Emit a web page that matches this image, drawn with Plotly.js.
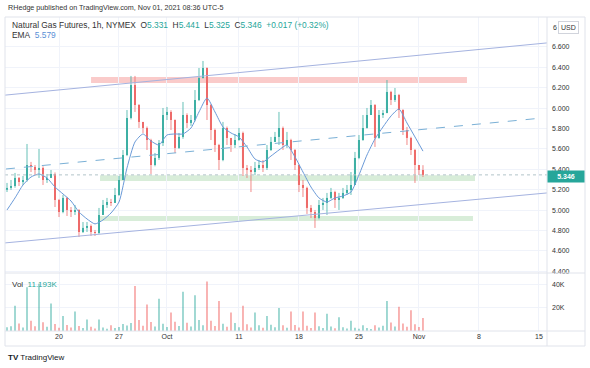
<!DOCTYPE html>
<html><head><meta charset="utf-8">
<script src="https://cdn.plot.ly/plotly-3.0.1.min.js"></script>
<style>html,body{margin:0;padding:0;background:#fff;}#chart{width:590px;height:368px;}</style>
</head><body><div id="chart"></div>
<script>
// ---- data (8-hour candles, NG 1h chart) ----
const openP = [5.200,5.218,5.237,5.316,5.276,5.296,5.443,5.424,5.394,5.414,5.296,5.316,5.355,5.100,4.982,5.120,5.002,4.982,5.002,4.786,4.826,4.845,4.786,4.776,4.953,5.051,5.080,5.071,5.149,5.296,5.541,5.904,6.227,6.031,5.865,5.806,5.688,5.443,5.512,5.659,5.933,5.963,5.884,5.610,5.718,5.933,5.855,5.884,6.080,6.296,6.394,6.031,5.786,5.639,5.492,5.806,5.708,5.639,5.688,5.757,5.414,5.394,5.374,5.414,5.443,5.414,5.590,5.669,5.718,5.806,5.639,5.688,5.590,5.443,5.247,5.218,5.022,4.982,4.923,5.051,5.071,5.120,5.178,5.100,5.120,5.169,5.198,5.247,5.512,5.688,5.806,5.933,6.031,5.708,5.933,5.953,6.159,6.080,6.129,5.982,5.786,5.708,5.590,5.443,5.394];
const highP = [5.267,5.296,5.365,5.325,5.335,5.649,5.473,5.443,5.600,5.430,5.355,5.394,5.370,5.110,5.149,5.130,5.031,5.051,5.010,4.884,4.884,4.860,4.806,5.022,5.100,5.120,5.110,5.218,5.335,5.590,5.982,6.316,6.316,6.040,5.865,5.820,5.700,5.561,5.688,6.002,6.012,5.980,5.890,5.757,6.061,5.950,5.933,6.178,6.394,6.463,6.400,6.040,5.800,5.650,5.865,5.820,5.708,5.747,5.806,5.770,5.443,5.433,5.473,5.492,5.492,5.639,5.718,5.767,5.963,5.820,5.767,5.700,5.600,5.450,5.296,5.230,5.051,5.002,5.100,5.120,5.169,5.218,5.190,5.169,5.218,5.247,5.374,5.571,5.737,5.933,6.002,6.080,6.040,5.982,5.982,6.276,6.170,6.198,6.140,5.990,5.816,5.720,5.600,5.443,5.441];
const lowP = [5.178,5.198,5.220,5.237,5.247,5.280,5.374,5.345,5.316,5.247,5.267,5.316,5.031,4.933,4.970,4.943,4.933,4.953,4.737,4.776,4.786,4.747,4.747,4.767,4.953,5.022,5.041,5.071,5.140,5.296,5.530,5.890,5.963,5.806,5.757,5.590,5.355,5.430,5.492,5.629,5.884,5.786,5.561,5.600,5.700,5.806,5.826,5.870,6.070,6.290,5.884,5.688,5.571,5.394,5.480,5.639,5.571,5.610,5.680,5.335,5.316,5.178,5.345,5.394,5.374,5.394,5.580,5.669,5.639,5.590,5.610,5.492,5.394,5.178,5.129,4.963,4.923,4.826,4.910,5.002,4.953,5.110,5.022,5.002,5.110,5.149,5.149,5.247,5.500,5.680,5.800,5.933,5.620,5.700,5.904,5.950,6.031,6.061,5.904,5.737,5.639,5.541,5.267,5.345,5.325];
const closeP = [5.218,5.237,5.316,5.276,5.296,5.443,5.424,5.394,5.414,5.296,5.316,5.355,5.100,4.982,5.120,5.002,4.982,5.002,4.786,4.826,4.845,4.786,4.776,4.953,5.051,5.080,5.071,5.149,5.296,5.541,5.904,6.227,6.031,5.865,5.806,5.688,5.443,5.512,5.659,5.933,5.963,5.884,5.610,5.718,5.933,5.855,5.884,6.080,6.296,6.394,6.031,5.786,5.639,5.492,5.806,5.708,5.639,5.688,5.757,5.414,5.394,5.374,5.414,5.443,5.414,5.590,5.669,5.718,5.806,5.639,5.688,5.590,5.443,5.247,5.218,5.022,4.982,4.923,5.051,5.071,5.120,5.178,5.100,5.120,5.169,5.198,5.247,5.512,5.688,5.806,5.933,6.031,5.708,5.933,5.953,6.159,6.080,6.129,5.982,5.786,5.708,5.590,5.443,5.394,5.346];
// volume per candle, thousands
const volK = [3.2,4.1,22,6.5,3.0,38,9.0,4.2,41,7.5,3.8,24,6.0,2.9,13,5.2,3.1,17,4.4,2.5,10,3.6,2.2,10,3.1,2.0,5,2.6,3.4,6,4.8,7.0,39,9.5,4.6,23,7.8,3.9,28,6.2,3.5,16,8.1,4.4,34,7.2,4.0,31,9.6,5.1,43,8.8,4.3,26,6.4,3.6,16,6.9,3.3,22,5.8,3.0,16,4.9,2.8,13,5.5,3.2,20,5.0,2.9,17,5.3,3.1,17,4.6,2.7,16,4.2,2.6,15,3.9,2.4,12,3.3,2.1,9,2.8,1.9,5,2.5,1.8,5,3.0,4.5,26,7.4,4.0,21,6.6,3.7,18,5.9,3.4,11.193];
// EMA read at every second candle
const emaIdx = [0,2,4,6,8,10,12,14,16,18,20,22,24,26,28,30,32,34,36,38,40,42,44,46,48,50,52,54,56,58,60,62,64,66,68,70,72,74,76,78,80,82,84,86,88,90,92,94,96,98,100,102,104];
const emaVal = [5.002,5.120,5.247,5.325,5.355,5.316,5.227,5.159,5.090,4.982,4.914,4.865,4.904,4.972,5.080,5.414,5.669,5.747,5.678,5.639,5.737,5.747,5.747,5.806,5.963,6.100,5.963,5.816,5.757,5.718,5.620,5.502,5.473,5.531,5.590,5.639,5.522,5.374,5.227,5.120,5.080,5.120,5.139,5.178,5.345,5.541,5.698,5.816,5.923,5.992,5.855,5.718,5.579];
// axis ticks (x in trading-day index, Sep 20 = 0)
const dateTickPos = [0,5,9,15,20,25,30,35,40];
const dateTickText = ['20','27','Oct','11','18','25','Nov','8','15'];
const priceTicks = [4.4,4.6,4.8,5.0,5.2,5.4,5.6,5.8,6.0,6.2,6.4,6.6];
const lastPrice = 5.346;
// drawings: [t0, p0, t1, p1]
const upperLine = [-4.5, 6.128, 40.67, 6.64];
const midLine = [-4.42, 5.404, 40.33, 5.904];
const lowerLine = [-4.5, 4.679, 40.67, 5.169];
const redZone = [2.67, 6.247, 34.0, 6.306];
const greenZone1 = [3.42, 5.285, 34.67, 5.342];
const greenZone2 = [3.25, 4.895, 34.5, 4.943];

// candle time positions (trading days; 3 candles per day)
const tC = closeP.map((_, i) => -13/3 + i/3);
const tE = emaIdx.map(i => tC[i]);
const isUp = closeP.map((c, i) => c >= openP[i]);
const volCol = isUp.map(u => u ? 'rgba(38,166,154,0.45)' : 'rgba(239,83,80,0.45)');

const upCol = '#3fb0a5', dnCol = '#ee6b69';
function bodies(up) {
  const x = [], base = [], h = [];
  tC.forEach((t, i) => { if (isUp[i] === up) { x.push(t); base.push(Math.min(openP[i], closeP[i])); h.push(Math.max(Math.abs(closeP[i] - openP[i]), 0.006)); } });
  return {type:'bar', x:x, y:h, base:base, xaxis:'x', yaxis:'y', width:0.17, marker:{color: up ? upCol : dnCol, line:{width:0}}, hoverinfo:'skip'};
}
function wicks(up) {
  const x = [], y = [];
  tC.forEach((t, i) => { if (isUp[i] === up) { x.push(t, t, null); y.push(lowP[i], highP[i], null); } });
  return {type:'scatter', mode:'lines', x:x, y:y, xaxis:'x', yaxis:'y', line:{color: up ? upCol : dnCol, width:0.8}, hoverinfo:'skip', connectgaps:false};
}

const PX = v => v / 590, PY = v => 1 - v / 368;
const teal = '#26a69a';

const traces = [
  wicks(true), wicks(false), bodies(true), bodies(false),
  {type:'scatter', mode:'lines', x:tE, y:emaVal, xaxis:'x', yaxis:'y', line:{color:'#6a9ad8', width:1, shape:'spline', smoothing:0.6}, hoverinfo:'skip'},
  {type:'bar', x:tC, y:volK, xaxis:'x', yaxis:'y2', marker:{color:volCol, line:{width:0}}, width:0.16, hoverinfo:'skip'}
];

const seg = (a, color, dash) => ({type:'line', xref:'x', yref:'y', x0:a[0], y0:a[1], x1:a[2], y1:a[3], line:{color:color, width:1, dash:dash||'solid'}});
const zone = (a, color) => ({type:'rect', xref:'x', yref:'y', x0:a[0], y0:a[1], x1:a[2], y1:a[3], fillcolor:color, line:{width:0}, layer:'below'});
const frame = '#e0e3eb';

const shapes = [
  zone(redZone, 'rgba(239,83,80,0.3)'),
  zone(greenZone1, 'rgba(76,175,80,0.22)'),
  zone(greenZone2, 'rgba(76,175,80,0.22)'),
  seg(upperLine, '#a5b3e0'),
  seg(lowerLine, '#a5b3e0'),
  seg(midLine, '#7ab0d6', 'dash'),
  {type:'line', xref:'x', yref:'y', x0:-4.5, x1:40.67, y0:lastPrice, y1:lastPrice, line:{color:'#b3c4c9', width:1, dash:'dot'}},
  {type:'rect', xref:'paper', yref:'paper', x0:PX(5), x1:PX(585), y0:PY(346), y1:PY(17), line:{color:frame, width:1}},
  {type:'line', xref:'paper', yref:'paper', x0:PX(5), x1:PX(585), y0:PY(273), y1:PY(273), line:{color:frame, width:1}},
  {type:'line', xref:'paper', yref:'paper', x0:PX(5), x1:PX(585), y0:PY(331), y1:PY(331), line:{color:frame, width:1}},
  {type:'line', xref:'paper', yref:'paper', x0:PX(547), x1:PX(547), y0:PY(346), y1:PY(17), line:{color:frame, width:1}}
];

const sp = '\u00a0';
const tv = s => '<span style="color:' + teal + '">' + s + '</span>';
const annotations = [
  {xref:'paper', yref:'paper', x:PX(6), y:PY(8), xanchor:'left', yanchor:'middle', showarrow:false,
   text:'RHedge published on TradingView.com, Nov 01, 2021 08:36 UTC-5', font:{size:7.2, color:'#333'}},
  {xref:'paper', yref:'paper', x:PX(10), y:PY(25), xanchor:'left', yanchor:'middle', showarrow:false,
   text:'Natural Gas Futures, 1h, NYMEX' + sp + sp + 'O' + tv('5.331') + sp + sp + 'H' + tv('5.441') + sp + sp + 'L' + tv('5.325') + sp + sp + 'C' + tv('5.346') + sp + sp + tv('+0.017 (+0.32%)'),
   font:{size:8.4, color:'#333'}},
  {xref:'paper', yref:'paper', x:PX(10), y:PY(35), xanchor:'left', yanchor:'middle', showarrow:false,
   text:'EMA' + sp + sp + '<span style="color:#5a8fd6">5.579</span>', font:{size:8.4, color:'#333'}},
  {xref:'paper', yref:'paper', x:PX(10), y:PY(284), xanchor:'left', yanchor:'middle', showarrow:false,
   text:'Vol' + sp + sp + tv('11.193K'), font:{size:8, color:'#333'}},
  {xref:'paper', yref:'paper', x:PX(6), y:PY(357), xanchor:'left', yanchor:'middle', showarrow:false,
   text:'<b>TV</b> TradingView', font:{size:8, color:'#131722'}},
  {xref:'paper', yref:'paper', x:PX(551), y:PY(27), xanchor:'left', yanchor:'middle', showarrow:false,
   text:'6', font:{size:7, color:'#333'}},
  {xref:'paper', yref:'paper', x:PX(558), y:PY(27), xanchor:'left', yanchor:'middle', showarrow:false,
   text:'USD', font:{size:7, color:'#333'}, bgcolor:'#ffffff', bordercolor:'#d1d4dc', borderwidth:1, borderpad:2},
  {xref:'paper', yref:'y', x:PX(547), y:lastPrice, yshift:-1.5, xanchor:'left', yanchor:'middle', showarrow:false,
   text:'<b>' + lastPrice.toFixed(3) + '</b>', font:{size:7, color:'#ffffff'}, bgcolor:teal, borderpad:1, width:34, height:9}
];

const layout = {
  width:590, height:368, margin:{l:0, r:0, t:0, b:0},
  paper_bgcolor:'#ffffff', plot_bgcolor:'#ffffff', showlegend:false, hovermode:false, barmode:'overlay',
  font:{family:'"Liberation Sans", Arial, sans-serif', size:7, color:'#333'},
  xaxis:{domain:[PX(5), PX(547)], range:[-4.5, 40.67], anchor:'y2', tickmode:'array', tickvals:dateTickPos, ticktext:dateTickText,
    showgrid:true, gridcolor:'#f0f3fa', zeroline:false, showline:false, ticks:'', tickfont:{size:7, color:'#333'}, fixedrange:true},
  yaxis:{domain:[PY(273), PY(17)], range:[4.384, 6.894], side:'right', anchor:'x', tickmode:'array', tickvals:priceTicks,
    tickformat:'.3f', showgrid:true, gridcolor:'#f0f3fa', zeroline:false, showline:false, ticks:'', ticklabelstandoff:4,
    tickfont:{size:7, color:'#333'}, fixedrange:true},
  yaxis2:{domain:[PY(331), PY(273)], range:[0, 50.4], side:'right', anchor:'x', tickmode:'array', tickvals:[20, 40],
    ticktext:['20K', '40K'], showgrid:true, gridcolor:'#f0f3fa', zeroline:false, showline:false, ticks:'', ticklabelstandoff:4,
    tickfont:{size:7, color:'#333'}, fixedrange:true},
  shapes:shapes, annotations:annotations
};

Plotly.newPlot('chart', traces, layout, {staticPlot:true, displayModeBar:false});
</script>
</body></html>
